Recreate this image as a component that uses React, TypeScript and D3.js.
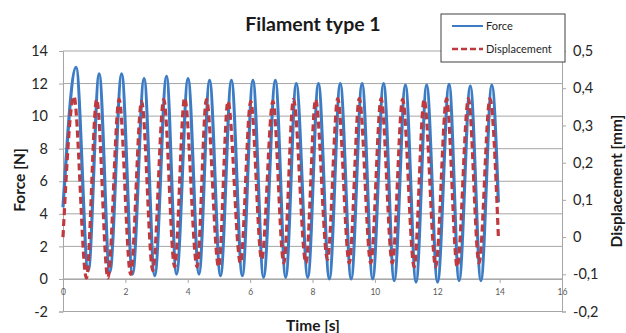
import React, { useEffect, useRef } from 'react'
import * as d3 from 'd3'

// Force: start, alternating peaks/troughs, end (time in s, value in N)
const forcePeakTimes = [0.42, 1.16, 1.88, 2.6, 3.32, 4.01, 4.7, 5.4, 6.09, 6.81, 7.48, 8.19, 8.89, 9.59, 10.28, 10.98, 11.66, 12.38, 13.06, 13.75]
const forcePeakValues = [13.0, 12.6, 12.6, 12.3, 12.45, 12.3, 12.2, 12.2, 12.2, 12.2, 12.0, 12.0, 12.0, 12.0, 12.0, 11.9, 11.9, 11.95, 11.85, 11.9]
const forceTroughTimes = [0.81, 1.5, 2.23, 2.94, 3.64, 4.36, 5.05, 5.75, 6.43, 7.14, 7.85, 8.54, 9.24, 9.93, 10.62, 11.32, 12.01, 12.7, 13.4]
const forceTroughValues = [0.5, 0.4, 0.3, 0.2, 0.3, 0.3, 0.2, 0.2, 0.1, 0.1, 0.1, 0.0, 0.0, 0.0, -0.1, -0.2, -0.2, -0.1, -0.1]
const forceStart = [0, 4.4]
const forceEnd = [13.96, 4.7]

// Displacement (mm)
const dispPeakTimes = [0.35, 1.08, 1.8, 2.52, 3.23, 3.9, 4.6, 5.29, 6.02, 6.73, 7.39, 8.1, 8.81, 9.5, 10.2, 10.89, 11.58, 12.3, 13.0, 13.69]
const dispPeakValues = [0.378, 0.37, 0.37, 0.365, 0.37, 0.374, 0.37, 0.365, 0.365, 0.365, 0.37, 0.37, 0.372, 0.372, 0.372, 0.37, 0.37, 0.372, 0.372, 0.372]
const dispTroughTimes = [0.75, 1.44, 2.17, 2.88, 3.58, 4.3, 4.99, 5.69, 6.37, 7.08, 7.79, 8.48, 9.18, 9.87, 10.56, 11.26, 11.95, 12.64, 13.34]
const dispTroughValues = [-0.11, -0.11, -0.1, -0.09, -0.08, -0.08, -0.08, -0.07, -0.06, -0.07, -0.07, -0.06, -0.07, -0.07, -0.07, -0.08, -0.08, -0.08, -0.07]
const dispStart = [0, 0.0]
const dispEnd = [13.96, 0.0]

const forceTicks = [-2, 0, 2, 4, 6, 8, 10, 12, 14]
const dispTicks = [-0.2, -0.1, 0, 0.1, 0.2, 0.3, 0.4, 0.5]
const timeTicks = [0, 2, 4, 6, 8, 10, 12, 14, 16]

const W = 626
const H = 333
const FONT = 'Lato, "Open Sans", sans-serif'

const buildSeries = (start, peakT, peakV, troughT, troughV, end) => {
  const pts = [start]
  peakT.forEach((t, i) => {
    pts.push([t, peakV[i]])
    if (i < troughT.length) pts.push([troughT[i], troughV[i]])
  })
  pts.push(end)
  return pts
}

// excel style: comma decimals, plain hyphen minus
const fmtDisp = d => (d === 0 ? '0' : d3.format('.1f')(d).replace('.', ',').replace('−', '-'))
const fmtForce = d => String(d)

const App = () => {
  const svgRef = useRef(null)

  useEffect(() => {
    const svg = d3.select(svgRef.current)
    svg.selectAll('*').remove()

    const x = d3.scaleLinear().domain([0, 16]).range([63, 562])
    const yL = d3.scaleLinear().domain([-2, 14]).range([311.5, 51])
    const yR = d3.scaleLinear().domain([-0.2, 0.5]).range([311.5, 51])

    // gridlines
    svg.append('g')
      .selectAll('line')
      .data(forceTicks)
      .join('line')
      .attr('x1', x(0)).attr('x2', x(16))
      .attr('y1', d => yL(d)).attr('y2', d => yL(d))
      .attr('stroke', '#a6a6a6').attr('stroke-width', 1)

    // left axis
    const left = svg.append('g')
      .attr('transform', `translate(${x(0)},0)`)
      .call(d3.axisLeft(yL).tickValues(forceTicks).tickSize(4).tickPadding(11).tickFormat(fmtForce))
    left.select('.domain').attr('stroke', '#a6a6a6')
    left.selectAll('.tick line').attr('stroke', '#a6a6a6')
    left.selectAll('text').attr('font-family', FONT).attr('font-size', 14.5).attr('fill', '#262626')

    // right axis
    const right = svg.append('g')
      .attr('transform', `translate(${x(16)},0)`)
      .call(d3.axisRight(yR).tickValues(dispTicks).tickSize(4).tickPadding(7).tickFormat(fmtDisp))
    right.select('.domain').attr('stroke', '#a6a6a6')
    right.selectAll('.tick line').attr('stroke', '#a6a6a6')
    right.selectAll('text').attr('font-family', FONT).attr('font-size', 14.5).attr('fill', '#262626')

    // bottom axis at force = 0
    const bottom = svg.append('g')
      .attr('transform', `translate(0,${yL(0)})`)
      .call(d3.axisBottom(x).tickValues(timeTicks).tickSize(4).tickPadding(6))
    bottom.select('.domain').attr('stroke', '#a6a6a6')
    bottom.selectAll('.tick line').attr('stroke', '#a6a6a6')
    bottom.selectAll('text').attr('font-family', FONT).attr('font-size', 8.5).attr('fill', '#595959')

    // series
    const forceData = buildSeries(forceStart, forcePeakTimes, forcePeakValues, forceTroughTimes, forceTroughValues, forceEnd)
    const dispData = buildSeries(dispStart, dispPeakTimes, dispPeakValues, dispTroughTimes, dispTroughValues, dispEnd)

    const forceLine = d3.line().x(d => x(d[0])).y(d => yL(d[1])).curve(d3.curveMonotoneX)
    const dispLine = d3.line().x(d => x(d[0])).y(d => yR(d[1])).curve(d3.curveMonotoneX)

    svg.append('path')
      .datum(forceData)
      .attr('d', forceLine)
      .attr('fill', 'none')
      .attr('stroke', '#3c7cc4')
      .attr('stroke-width', 3.2)

    svg.append('path')
      .datum(dispData)
      .attr('d', dispLine)
      .attr('fill', 'none')
      .attr('stroke', '#c0393e')
      .attr('stroke-width', 3.2)
      .attr('stroke-dasharray', '7,4')

    // legend
    const lg = svg.append('g')
    lg.append('rect')
      .attr('x', 441).attr('y', 14).attr('width', 124).attr('height', 48)
      .attr('fill', '#fff').attr('stroke', '#404040').attr('stroke-width', 1)
    const items = [
      { name: 'Force', color: '#3c7cc4', dash: null, y: 26 },
      { name: 'Displacement', color: '#c0393e', dash: '6,3', y: 49 }
    ]
    items.forEach(it => {
      lg.append('line')
        .attr('x1', 452).attr('x2', 483).attr('y1', it.y).attr('y2', it.y)
        .attr('stroke', it.color).attr('stroke-width', it.dash ? 2.5 : 2)
        .attr('stroke-dasharray', it.dash)
      lg.append('text')
        .attr('x', 486).attr('y', it.y).attr('dy', '0.35em')
        .attr('font-family', FONT).attr('font-size', 11).attr('fill', '#262626')
        .text(it.name)
    })

    // titles
    svg.append('text')
      .attr('x', 313).attr('y', 31).attr('text-anchor', 'middle')
      .attr('font-family', FONT).attr('font-weight', 'bold').attr('font-size', 19.5)
      .attr('fill', '#1a1a1a')
      .text('Filament type 1')

    svg.append('text')
      .attr('transform', 'translate(25,180) rotate(-90)')
      .attr('text-anchor', 'middle')
      .attr('font-family', FONT).attr('font-weight', 'bold').attr('font-size', 15.5)
      .attr('fill', '#1a1a1a')
      .text('Force [N]')

    svg.append('text')
      .attr('transform', 'translate(622,181) rotate(-90)')
      .attr('text-anchor', 'middle')
      .attr('font-family', FONT).attr('font-weight', 'bold').attr('font-size', 15.5)
      .attr('fill', '#1a1a1a')
      .text('Displacement [mm]')

    svg.append('text')
      .attr('x', 313).attr('y', 331).attr('text-anchor', 'middle')
      .attr('font-family', FONT).attr('font-weight', 'bold').attr('font-size', 15.5)
      .attr('fill', '#1a1a1a')
      .text('Time [s]')
  }, [])

  return (
    <svg
      ref={svgRef}
      width={W}
      height={H}
      style={{ position: 'absolute', left: 0, top: 0, background: '#fff' }}
    />
  )
}

export default App
